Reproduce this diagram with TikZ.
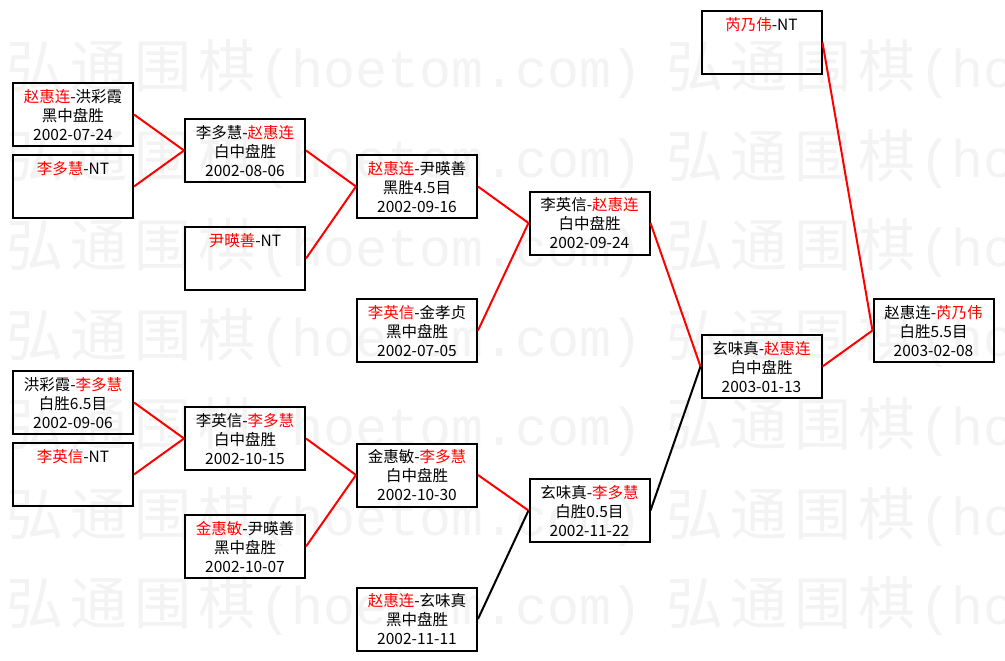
\documentclass[tikz,border=0pt]{standalone}
\usepackage{fontspec}
\setmainfont{Noto Sans CJK SC}
\newfontfamily\wmlat{Liberation Mono}
\definecolor{wred}{RGB}{255,0,0}
\definecolor{wmark}{RGB}{243,243,243}
\newcommand{\R}[1]{\textcolor{wred}{#1}}
\newcommand{\gbox}[4]{%
  \node[gamebox] (#1) at (#2,#3) {};
  \node[gametext, anchor=north] (#1-t) at ([yshift=-6.7pt]#1.north) {#4};
}
\begin{document}
\begin{tikzpicture}[x=1pt,y=-1pt,
  gamebox/.style={draw=black, line width=2pt, minimum width=120pt, minimum height=63pt, inner sep=0pt},
  gametext/.style={align=center, inner sep=0pt, font=\fontsize{15.5pt}{19pt}\selectfont},
  win/.style={draw=wred, line width=2pt},
  lose/.style={draw=black, line width=2pt},
  wmc/.style={text=wmark, inner sep=0pt, anchor=base, font=\fontsize{57pt}{57pt}\selectfont},
  wml/.style={text=wmark, inner sep=0pt, anchor=base west, font=\wmlat\fontsize{53.3pt}{53.3pt}\selectfont}]
\fill[white] (0,0) rectangle (1005,661);
\useasboundingbox (0,0) rectangle (1005,661);
% watermark
\foreach \r in {0,...,6}{
  \foreach \k in {0,1}{
    \pgfmathsetmacro{\yb}{66+89.5*\r+21.7}
    \pgfmathsetmacro{\xo}{3+660*\k}
    \foreach \c [count=\i from 0] in {弘,通,围,棋}{
      \node[wmc] (wm\r\k\i) at (\xo+32+64*\i,\yb) {\c};
    }
    \node[wml] (wml\r\k) at (\xo+256,\yb) {(hoetom.com)};
  }
}
% boxes
\gbox{a1}{73}{114.5}{\strut\R{赵惠连}-洪彩霞\\\strut 黑中盘胜\\\strut 2002-07-24}
\gbox{a2}{73}{186.5}{\strut\R{李多慧}-NT\\\strut\\\strut}
\gbox{b1}{245}{150.5}{\strut 李多慧-\R{赵惠连}\\\strut 白中盘胜\\\strut 2002-08-06}
\gbox{b2}{245}{258.5}{\strut\R{尹暎善}-NT\\\strut\\\strut}
\gbox{c1}{417}{186.5}{\strut\R{赵惠连}-尹暎善\\\strut 黑胜4.5目\\\strut 2002-09-16}
\gbox{c2}{417}{330.5}{\strut\R{李英信}-金孝贞\\\strut 黑中盘胜\\\strut 2002-07-05}
\gbox{d1}{589.5}{223}{\strut 李英信-\R{赵惠连}\\\strut 白中盘胜\\\strut 2002-09-24}
\gbox{e}{761.5}{366.5}{\strut 玄味真-\R{赵惠连}\\\strut 白中盘胜\\\strut 2003-01-13}
\gbox{f}{761.5}{42.5}{\strut\R{芮乃伟}-NT\\\strut\\\strut}
\gbox{g}{933.5}{330.5}{\strut 赵惠连-\R{芮乃伟}\\\strut 白胜5.5目\\\strut 2003-02-08}
\gbox{a3}{73}{402.5}{\strut 洪彩霞-\R{李多慧}\\\strut 白胜6.5目\\\strut 2002-09-06}
\gbox{a4}{73}{474.5}{\strut\R{李英信}-NT\\\strut\\\strut}
\gbox{b3}{245}{438.5}{\strut 李英信-\R{李多慧}\\\strut 白中盘胜\\\strut 2002-10-15}
\gbox{b4}{245}{546.5}{\strut\R{金惠敏}-尹暎善\\\strut 黑中盘胜\\\strut 2002-10-07}
\gbox{c3}{417}{475}{\strut 金惠敏-\R{李多慧}\\\strut 白中盘胜\\\strut 2002-10-30}
\gbox{c4}{417}{619}{\strut\R{赵惠连}-玄味真\\\strut 黑中盘胜\\\strut 2002-11-11}
\gbox{d2}{589.5}{510.5}{\strut 玄味真-\R{李多慧}\\\strut 白胜0.5目\\\strut 2002-11-22}
% connectors
\draw[win] (a1.east) -- (b1.west);
\draw[win] (a2.east) -- (b1.west);
\draw[win] (b1.east) -- (c1.west);
\draw[win] (b2.east) -- (c1.west);
\draw[win] (c1.east) -- (d1.west);
\draw[win] (c2.east) -- (d1.west);
\draw[win] (d1.east) -- (e.west);
\draw[win] (e.east) -- (g.west);
\draw[win] (f.east) -- (g.west);
\draw[win] (a3.east) -- (b3.west);
\draw[win] (a4.east) -- (b3.west);
\draw[win] (b3.east) -- (c3.west);
\draw[win] (b4.east) -- (c3.west);
\draw[win] (c3.east) -- (d2.west);
\draw[lose] (c4.east) -- (d2.west);
\draw[lose] (d2.east) -- (e.west);
\end{tikzpicture}
\end{document}
